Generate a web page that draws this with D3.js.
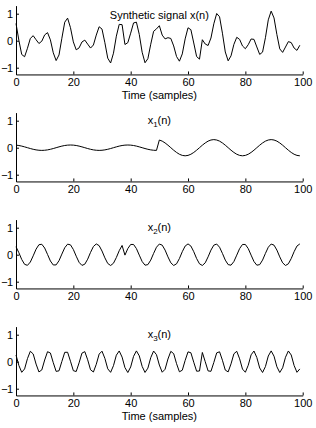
<!DOCTYPE html>
<html>
<head>
<meta charset="utf-8">
<script src="https://cdn.jsdelivr.net/npm/d3@7"></script>
<style>
  body { margin: 0; background: #fff; }
  svg { display: block; font-family: "Liberation Sans", Arial, sans-serif; }
</style>
</head>
<body>
<div id="chart"></div>
<script>
// samples n = 0..99
const n = d3.range(100);

// component 1: slow wave, amplitude change at n = 50
const x1 = [
  0.095, 0.081, 0.059, 0.031, 0, -0.031, -0.059, -0.081, -0.095, -0.1,
  -0.095, -0.081, -0.059, -0.031, 0, 0.031, 0.059, 0.081, 0.095, 0.1,
  0.095, 0.081, 0.059, 0.031, 0, -0.031, -0.059, -0.081, -0.095, -0.1,
  -0.095, -0.081, -0.059, -0.031, 0, 0.031, 0.059, 0.081, 0.095, 0.1,
  0.095, 0.081, 0.059, 0.031, 0, -0.031, -0.059, -0.081, -0.095, -0.1,
  0.285, 0.243, 0.176, 0.093, 0, -0.093, -0.176, -0.243, -0.285, -0.3,
  -0.285, -0.243, -0.176, -0.093, 0, 0.093, 0.176, 0.243, 0.285, 0.3,
  0.285, 0.243, 0.176, 0.093, 0, -0.093, -0.176, -0.243, -0.285, -0.3,
  -0.285, -0.243, -0.176, -0.093, 0, 0.093, 0.176, 0.243, 0.285, 0.3,
  0.285, 0.243, 0.176, 0.093, 0, -0.093, -0.176, -0.243, -0.285, -0.3
];

// component 2: medium wave, phase jump at n = 38
const x2 = [
  0.295, 0.074, -0.177, -0.357, -0.394, -0.272, -0.042, 0.205, 0.370, 0.387,
  0.248, 0.010, -0.233, -0.381, -0.377, -0.222, 0.023, 0.258, 0.390, 0.365,
  0.194, -0.055, -0.282, -0.396, -0.351, -0.166, 0.086, 0.304, 0.399, 0.335,
  0.136, -0.117, -0.324, -0.400, -0.316, -0.105, 0.148, 0.342, -0.016, 0.227,
  0.379, 0.379, 0.227, -0.016, -0.253, -0.388, -0.368, -0.200, 0.048, 0.277,
  0.395, 0.354, 0.171, -0.080, -0.300, -0.399, -0.338, -0.142, 0.111, 0.320,
  0.400, 0.320, 0.111, -0.142, -0.338, -0.399, -0.300, -0.080, 0.171, 0.354,
  0.395, 0.277, 0.048, -0.200, -0.368, -0.388, -0.253, -0.016, 0.227, 0.379,
  0.379, 0.227, -0.016, -0.253, -0.388, -0.368, -0.200, 0.048, 0.277, 0.395,
  0.354, 0.171, -0.080, -0.300, -0.399, -0.338, -0.142, 0.111, 0.320, 0.400
];

// component 3: fast wave, phase jump at n = 65
const x3 = [
  0.248, -0.139, -0.393, -0.268, 0.114, 0.387, 0.287, -0.088, -0.379, -0.305,
  0.062, 0.370, 0.322, -0.036, -0.359, -0.337, 0.009, 0.347, 0.350, 0.017,
  -0.333, -0.363, -0.044, 0.317, 0.373, 0.070, -0.300, -0.382, -0.096, 0.282,
  0.389, 0.122, -0.263, -0.394, -0.147, 0.242, 0.398, 0.171, -0.220, -0.400,
  -0.195, 0.198, 0.400, 0.218, -0.174, -0.398, -0.239, 0.150, 0.395, 0.260,
  -0.125, -0.390, -0.280, 0.099, 0.383, 0.298, -0.073, -0.374, -0.315, 0.047,
  0.364, 0.331, -0.020, -0.352, -0.345, 0.342, 0.001, -0.341, -0.356, -0.028,
  0.327, 0.367, 0.054, -0.311, -0.377, -0.080, 0.293, 0.385, 0.106, -0.274,
  -0.391, -0.132, 0.255, 0.396, 0.156, -0.233, -0.399, -0.181, 0.211, 0.400,
  0.204, -0.188, -0.399, -0.226, 0.164, 0.397, 0.248, -0.140, -0.393, -0.268
];

// synthetic signal x(n)
const x = [
  0.638, 0.016, -0.511, -0.594, -0.280, 0.084, 0.186, 0.036, -0.104, -0.018,
  0.215, 0.299, 0.030, -0.448, -0.736, -0.528, 0.091, 0.686, 0.835, 0.482,
  -0.044, -0.337, -0.267, -0.048, 0.022, -0.127, -0.273, -0.159, 0.208, 0.517,
  0.430, -0.076, -0.646, -0.825, -0.463, 0.168, 0.605, 0.594, -0.141, -0.073,
  0.279, 0.658, 0.686, 0.233, -0.427, -0.817, -0.666, -0.131, 0.348, 0.437,
  0.555, 0.207, 0.067, 0.112, 0.083, -0.194, -0.587, -0.759, -0.489, 0.067,
  0.479, 0.408, -0.085, -0.587, -0.683, 0.036, -0.123, -0.178, 0.100, 0.626,
  1.007, 0.887, 0.278, -0.418, -0.745, -0.561, -0.136, 0.126, 0.048, -0.195,
  -0.297, -0.148, 0.063, 0.050, -0.232, -0.508, -0.423, 0.110, 0.773, 1.095,
  0.843, 0.226, -0.303, -0.433, -0.235, -0.034, -0.070, -0.272, -0.358, -0.168
];

const xTicks = [0, 20, 40, 60, 80, 100];
const yTicks = [-1, 0, 1];
const titles = [
  {main: "Synthetic signal x(n)"},
  {main: "x", sub: "1", rest: "(n)"},
  {main: "x", sub: "2", rest: "(n)"},
  {main: "x", sub: "3", rest: "(n)"}
];
const xLabels = ["Time (samples)", null, null, "Time (samples)"];
const series = [x, x1, x2, x3];

const width = 316;
const height = 428;
const marginLeft = 16;
const marginRight = 13.3;
const firstZero = 40.7;
const panelStep = 107;
const unit = 27;

const svg = d3.select("#chart").append("svg")
    .attr("width", width)
    .attr("height", height);

const xScale = d3.scaleLinear()
    .domain([0, 100])
    .range([marginLeft, width - marginRight]);

const line = d3.line();

series.forEach((values, i) => {
    const zero = firstZero + i * panelStep;
    const y = d3.scaleLinear()
        .domain([-1.25, 1.3])
        .range([zero + 1.25 * unit, zero - 1.3 * unit]);

    const g = svg.append("g");

    // x-axis, ticks pointing inward
    g.append("g")
        .attr("transform", `translate(0,${y(-1.25)})`)
        .call(d3.axisBottom(xScale).tickValues(xTicks).tickSize(-3).tickSizeOuter(0).tickPadding(3.5))
        .call(a => a.selectAll("text").attr("font-size", 11).attr("font-family", null).attr("fill", "#000"))
        .call(a => a.selectAll("line,path").attr("stroke", "#000"));

    // y-axis
    g.append("g")
        .attr("transform", `translate(${marginLeft},0)`)
        .call(d3.axisLeft(y).tickValues(yTicks).tickFormat(d3.format("d")).tickSize(-3).tickSizeOuter(0).tickPadding(3.5))
        .call(a => a.selectAll("text").attr("font-size", 11).attr("font-family", null)
            .attr("letter-spacing", -0.6).attr("fill", "#000"))
        .call(a => a.selectAll("line,path").attr("stroke", "#000"));

    g.append("path")
        .attr("fill", "none")
        .attr("stroke", "#000")
        .attr("stroke-width", 1)
        .attr("d", line(n.map(k => [xScale(k), y(values[k])])));

    // title
    const t = titles[i];
    const title = g.append("text")
        .attr("x", (xScale(0) + xScale(100)) / 2)
        .attr("y", zero - (i === 0 ? 22 : 23.5))
        .attr("text-anchor", "middle")
        .attr("font-size", 11)
        .text(t.main);
    if (t.sub) {
        title.append("tspan").attr("dy", 3).attr("font-size", 8).text(t.sub);
        title.append("tspan").attr("dy", -3).text(t.rest);
    }

    if (xLabels[i]) {
        g.append("text")
            .attr("x", (xScale(0) + xScale(100)) / 2)
            .attr("y", y(-1.25) + 25)
            .attr("text-anchor", "middle")
            .attr("font-size", 11)
            .text(xLabels[i]);
    }
});
</script>
</body>
</html>
